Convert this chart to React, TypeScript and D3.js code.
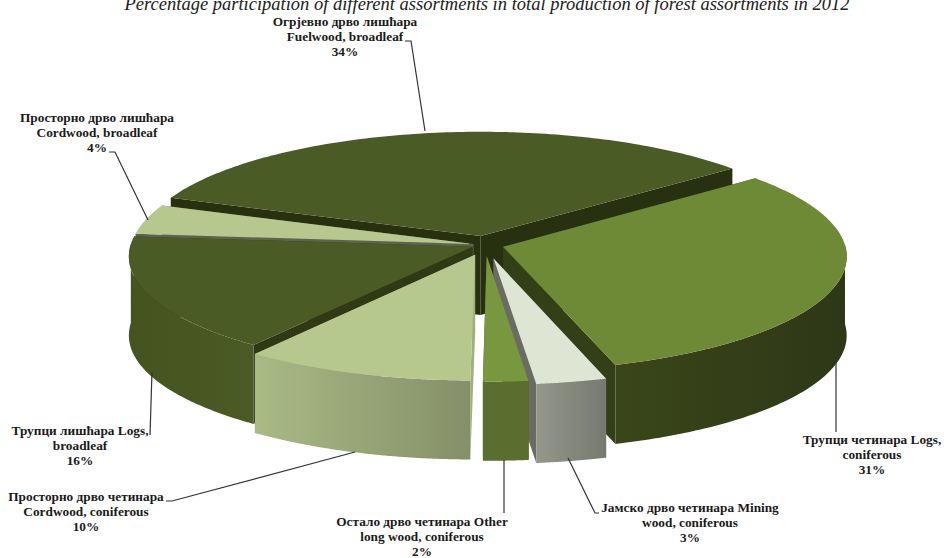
import React from 'react';
import * as d3 from 'd3';

const names = [
  ['Трупци четинара Logs,', 'coniferous'],
  ['Јамско дрво четинара Mining', 'wood, coniferous'],
  ['Остало дрво четинара Other', 'long wood, coniferous'],
  ['Просторно дрво четинара', 'Cordwood, coniferous'],
  ['Трупци лишћара Logs,', 'broadleaf'],
  ['Просторно дрво лишћара', 'Cordwood, broadleaf'],
  ['Огрјевно дрво лишћара', 'Fuelwood, broadleaf'],
];
const values = [31, 3.05, 1.95, 10, 16.3, 4.2, 33.5];
const explode = [0.055, 0.12, 0.095, 0.09, 0.04, 0.035, 0.08];
const paintOrder = [6, 5, 0, 4, 3, 1, 2];

const topColors = ['#6f8a37', '#dfe5d3', '#78973f', '#b7c88f', '#4b5b25', '#b7c88f', '#4b5b25'];
const sideLeft = ['#3a4619', '#94978a', '#5a6e2f', '#a9ba85', '#45541f', '#6f7a55', '#3a4619'];
const sideRight = ['#2e3717', '#76796e', '#5a6e2f', '#858f68', '#4b5b25', '#6f7a55', '#3a4619'];
const cutColors = ['#333f17', '#6a6b62', '#4f6029', '#a0b07f', '#2f3a14', '#5e6350', '#27300f'];

const labelPos = [
  { x: 872, y: 444 },
  { x: 690, y: 512 },
  { x: 422, y: 526 },
  { x: 86, y: 501 },
  { x: 80, y: 435 },
  { x: 97, y: 122 },
  { x: 345, y: 26 },
];
const leaders = [
  [[836, 358], [836, 432]],
  [[568, 458], [595, 513], [599, 513]],
  [[504, 460], [504, 513]],
  [[355, 452], [172, 501], [166, 501]],
  [[152, 372], [150, 435]],
  [[148, 220], [115, 152], [109, 152]],
  [[425, 131], [411, 41], [405, 41]],
];

const W = 944;
const H = 558;
const cx = 485;
const cy = 245;
const rx = 342;
const ry = 114;
const persp = 0.08;
const depth = 79;
const serif = '"Liberation Serif", "Times New Roman", serif';

const pie = d3
  .pie<number>()
  .sort(null)
  .startAngle((51 * Math.PI) / 180)
  .endAngle((411 * Math.PI) / 180);

const line = d3.line<number[]>().x(d => d[0]).y(d => d[1]);

const App: React.FC = () => {
  const arcs = pie(values);

  const slices = arcs.map((a, i) => {
    const mid = (a.startAngle + a.endAngle) / 2;
    const project = (theta: number, r: number) => {
      const u = explode[i] * Math.sin(mid) + r * Math.sin(theta);
      const v = explode[i] * Math.cos(mid) + r * Math.cos(theta);
      const w = 1 + persp * v;
      return [cx + (rx * u) / w, cy - (ry * v) / w];
    };
    const angles = d3.range(0, 121).map(t => a.startAngle + ((a.endAngle - a.startAngle) * t) / 120);
    const rim = angles.map(t => project(t, 1));
    const apex = project(mid, 0);
    const down = (p: number[]) => [p[0], p[1] + depth];
    // only the part of the rim that faces the viewer
    const front = angles.filter(t => Math.cos(t) < 0.03).map(t => project(t, 1));
    const xs = rim.map(p => p[0]);
    return {
      i,
      x0: d3.min(xs) as number,
      x1: d3.max(xs) as number,
      top: line([apex, ...rim]) + 'Z',
      side: front.length ? line([...front, ...front.map(down).reverse()]) + 'Z' : '',
      cutStart: line([apex, rim[0], down(rim[0]), down(apex)]) + 'Z',
      cutEnd: line([apex, rim[120], down(rim[120]), down(apex)]) + 'Z',
    };
  });

  return (
    <svg width={W} height={H} style={{ position: 'absolute', left: 0, top: 0, background: '#fff' }}>
      <defs>
        {slices.map(s => (
          <linearGradient key={s.i} id={`side${s.i}`} gradientUnits="userSpaceOnUse" x1={s.x0} x2={s.x1} y1={0} y2={0}>
            <stop offset="0%" stopColor={sideLeft[s.i]} />
            <stop offset="100%" stopColor={sideRight[s.i]} />
          </linearGradient>
        ))}
      </defs>

      <text
        x={487}
        y={10}
        textAnchor="middle"
        fontFamily={serif}
        fontStyle="italic"
        fontSize={18.5}
        fill="#222"
      >
        Percentage participation of different assortments in total production of forest assortments in 2012
      </text>

      {paintOrder.map(k => {
        const s = slices[k];
        return (
          <g key={s.i}>
            <path d={s.cutStart} fill={cutColors[s.i]} />
            <path d={s.cutEnd} fill={cutColors[s.i]} />
            <path d={s.side} fill={`url(#side${s.i})`} />
            <path d={s.top} fill={topColors[s.i]} />
          </g>
        );
      })}

      {leaders.map((l, i) => (
        <path key={i} d={line(l) as string} fill="none" stroke="#333" strokeWidth={1.2} />
      ))}

      {names.map((n, i) => (
        <text
          key={i}
          textAnchor="middle"
          fontFamily={serif}
          fontWeight="bold"
          fontSize={13.3}
          fill="#1a1a1a"
        >
          <tspan x={labelPos[i].x} y={labelPos[i].y}>{n[0]}</tspan>
          <tspan x={labelPos[i].x} y={labelPos[i].y + 15}>{n[1]}</tspan>
          <tspan x={labelPos[i].x} y={labelPos[i].y + 30}>{Math.round(values[i])}%</tspan>
        </text>
      ))}
    </svg>
  );
};

export default App;
